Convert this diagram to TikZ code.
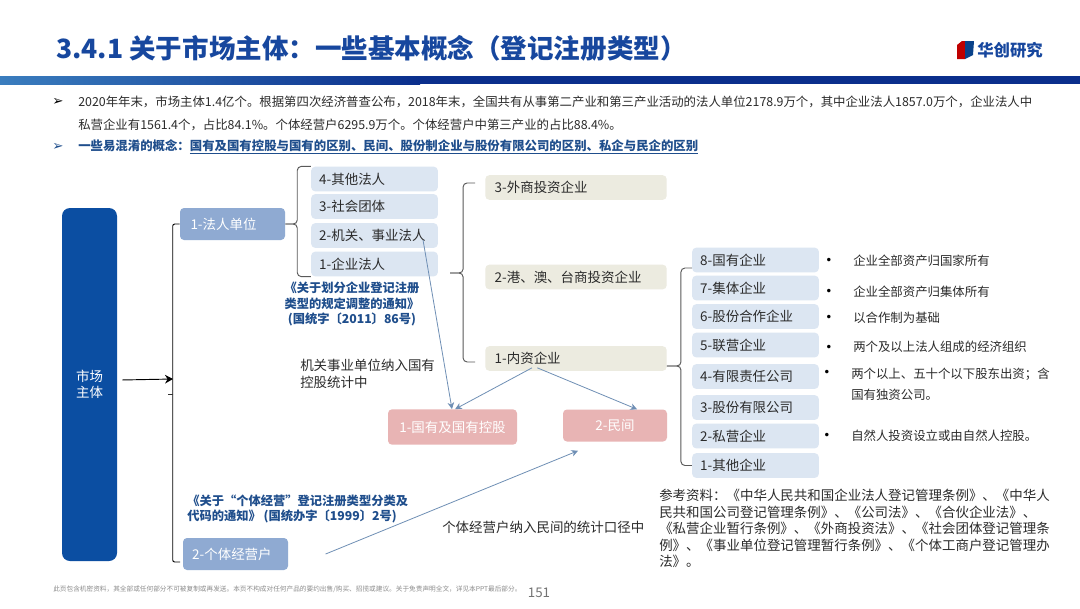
\documentclass[tikz,border=0pt]{standalone}
\usepackage{fontspec}
\setmainfont{Noto Sans CJK SC}
\newfontfamily\symfont{DejaVu Sans}
\usetikzlibrary{arrows.meta, positioning}
\definecolor{zhulan}{HTML}{0B4EA2}
\definecolor{titlan}{HTML}{17479E}
\definecolor{yinlan}{HTML}{1F4E8C}
\definecolor{farenlan}{HTML}{8FAAD2}
\definecolor{qianlan}{HTML}{DCE6F2}
\definecolor{qianhui}{HTML}{ECEBE0}
\definecolor{fenhong}{HTML}{E8B4B4}
\definecolor{xianlan}{HTML}{6F8FB5}
\definecolor{wenzi}{HTML}{2B2B2B}
\definecolor{tiaozuo}{HTML}{3A7DBE}
\definecolor{tiaoyou}{HTML}{0A2E8C}

\begin{document}
\begin{tikzpicture}[
  x=0.75pt, y=-0.75pt,
  lab/.style={font=\fontsize{10.1pt}{12.4pt}\selectfont, align=left, anchor=west, inner sep=0pt, text=wenzi},
  yinwen/.style={font=\fontsize{9.2pt}{11.5pt}\selectfont\bfseries, text=yinlan, inner sep=0pt},
  para/.style={font=\fontsize{9.3pt}{11pt}\selectfont, anchor=west, inner sep=0pt, text=wenzi},
  dian/.style={font=\symfont\fontsize{9pt}{11pt}\selectfont, inner sep=0pt, text=black},
  chip/.style={
    rounded corners=3pt, inner xsep=0pt, inner ysep=0pt, align=left,
    font=\fontsize{10.1pt}{12pt}\selectfont, text=wenzi, minimum height=18.5pt
  },
  farenbox/.style={chip, fill=qianlan, text width=83pt, minimum width=95pt},
  qiyebox/.style={chip, fill=qianlan, text width=83pt, minimum width=95pt},
  waibox/.style={chip, fill=qianhui, text width=122pt, minimum width=136pt},
  hongbox/.style={chip, fill=fenhong, text=white, align=center},
  kuohao/.style={draw=black!65, line width=0.7pt, rounded corners=3pt},
  fleche/.style={-{Stealth[length=5pt, width=5pt]}, draw=xianlan, line width=0.6pt}
]
\useasboundingbox (0,0) rectangle (1080,608);
\fill[white] (0,0) rectangle (1080,608);

% --- 1. Title and logo ---
\node[font=\fontsize{19.9pt}{24pt}\selectfont\bfseries, text=titlan, anchor=west, inner sep=0pt] (titre) at (56,48)
  {3.4.1 关于市场主体：一些基本概念（登记注册类型）};
\shade[left color=tiaozuo, right color=tiaoyou] (0,76) rectangle (420,84);
\fill[tiaoyou] (420,76) rectangle (1080,84);
\fill[red!75!black] (957,45) -- (962,41) -- (965,41) -- (965,59) -- (957,59) -- cycle;
\fill[zhulan!85!black] (965,41) -- (974,41) -- (973,55) -- (965,59) -- cycle;
\node[font=\fontsize{12.3pt}{14pt}\selectfont\bfseries, text=titlan, anchor=west, inner sep=0pt] (logo) at (977,50) {华创研究};

% --- 2. Bullets on top ---
\node[dian, font=\symfont\fontsize{10pt}{12pt}\selectfont] (puce1) at (58,102) {➢};
\node[para] (ligne1) at (78,102)
  {2020年年末，市场主体1.4亿个。根据第四次经济普查公布，2018年末，全国共有从事第二产业和第三产业活动的法人单位2178.9万个，其中企业法人1857.0万个，企业法人中};
\node[para] (ligne2) at (78,125)
  {私营企业有1561.4个，占比84.1\%。个体经营户6295.9万个。个体经营户中第三产业的占比88.4\%。};
\node[dian, font=\symfont\fontsize{10pt}{12pt}\selectfont, text=yinlan] (puce2) at (58,147) {➢};
\node[para, text=yinlan, font=\fontsize{9.3pt}{11pt}\selectfont\bfseries] (ligne3) at (78,147)
  {一些易混淆的概念：\underline{国有及国有控股与国有的区别、民间、股份制企业与股份有限公司的区别、私企与民企的区别}};

% --- 3. Main column ---
\node[chip, fill=zhulan, text=white, minimum width=41.25pt, minimum height=264.75pt, align=center, rounded corners=6pt,
  font=\fontsize{10.1pt}{12pt}\selectfont] (shichang) at (89.5,384.5) {市场\\主体};
\node[chip, fill=farenlan, text=white, text width=63pt, minimum width=78.75pt, minimum height=24pt] (faren) at (232.5,224) {1-法人单位};
\node[chip, fill=farenlan, text=white, text width=65pt, minimum width=78.75pt, minimum height=24pt] (geti) at (235.5,554) {2-个体经营户};

% --- 4. Legal persons ---
\node[farenbox] (qita) at (374.5,179) {4-其他法人};
\node[farenbox] (shetuan) at (374.5,206.5) {3-社会团体};
\node[farenbox] (jiguan) at (374.5,235.5) {2-机关、事业法人};
\node[farenbox] (qiye) at (374.5,264) {1-企业法人};
\node[yinwen, align=center] (tongzhi) at (352,304) {《关于划分企业登记注册\\类型的规定调整的通知》\\(国统字〔2011〕86号)};
\node[lab] (jiguanlab) at (300,374) {机关事业单位纳入国有\\控股统计中};

% --- 5. Enterprises ---
\node[waibox] (waishang) at (576,187.5) {3-外商投资企业};
\node[waibox] (gangao) at (576,277) {2-港、澳、台商投资企业};
\node[waibox] (neizi) at (576,358.5) {1-内资企业};
\node[hongbox, minimum width=96.75pt, minimum height=26.5pt] (guoyou) at (452.5,427) {1-国有及国有控股};
\node[hongbox, minimum width=78pt, minimum height=24pt] (minjian) at (615,425.5) {2-民间};

% --- 6. Domestic enterprises and their notes ---
\foreach \nom/\y/\txt in {
    guoqi/260/8-国有企业, jiti/288/7-集体企业, gufenhz/316.5/6-股份合作企业, lianying/345/5-联营企业,
    youxian/376.5/4-有限责任公司, gufen/407.5/3-股份有限公司, siying/436/2-私营企业, qitaqy/465.5/1-其他企业}
  \node[qiyebox] (\nom) at (755.5,\y) {\txt};
\foreach \nom/\x/\y in {d1/829/261, d2/829/292, d3/829/318, d4/829/348, d5/827/373, d6/827/436}
  \node[dian] (\nom) at (\x,\y) {•};
\node[para] (n1) at (853,261) {企业全部资产归国家所有};
\node[para] (n2) at (853,292) {企业全部资产归集体所有};
\node[para] (n3) at (853,318) {以合作制为基础};
\node[para] (n4) at (853,347) {两个及以上法人组成的经济组织};
\node[para, align=left, font=\fontsize{9.3pt}{15.8pt}\selectfont] (n5) at (851,384) {两个以上、五十个以下股东出资；含\\国有独资公司。};
\node[para] (n6) at (851,436) {自然人投资设立或由自然人控股。};

% --- 7. Bottom texts ---
\node[yinwen, align=left, anchor=west] (geticit) at (187,509)
  {《关于“个体经营”登记注册类型分类及\\代码的通知》 (国统办字〔1999〕2号)};
\node[lab] (getilab) at (442,527) {个体经营户纳入民间的统计口径中};
\node[lab, font=\fontsize{10.1pt}{12.4pt}\selectfont] (cankao) at (659,528.5)
  {参考资料：《中华人民共和国企业法人登记管理条例》、《中华人\\民共和国公司登记管理条例》、《公司法》、《合伙企业法》、\\《私营企业暂行条例》、《外商投资法》、《社会团体登记管理条\\例》、《事业单位登记管理暂行条例》、《个体工商户登记管理办\\法》。};
\node[font=\fontsize{5pt}{6pt}\selectfont, text=black!45, anchor=west, inner sep=0pt] (mianze) at (53,589)
  {此页包含机密资料，其全部或任何部分不可被复制或再发送。本页不构成对任何产品的要约出售/购买、招揽或建议。关于免责声明全文，详见本PPT最后部分。};
\node[font=\fontsize{10pt}{12pt}\selectfont, text=black!55, inner sep=0pt] (yema) at (539,593) {151};

% Braces
\draw[line width=0.7pt, draw=black, rounded corners=1.5pt]
  (faren.west) -- ++(-5.25pt,0) |- ([yshift=-6pt,xshift=-2pt]geti.west);
\draw[kuohao] (faren.east) -- ++(9pt,0) |- (qita.north west);
\draw[kuohao] (faren.east) -- ++(9pt,0) |- (qiye.south west);
\draw[kuohao] ([xshift=9pt,yshift=-6.75pt]qiye.east) -- ++(9.75pt,0) |- ([xshift=-7.5pt,yshift=3.4pt]waishang.west);
\draw[kuohao] ([xshift=9pt,yshift=-6.75pt]qiye.east) -- ++(9.75pt,0) |- ([xshift=-7.5pt,yshift=-2.6pt]neizi.west);
\draw[kuohao] ([yshift=-5.6pt]neizi.east) -- ++(10.5pt,0) |- ([yshift=-6pt]guoqi.west);
\draw[kuohao] ([yshift=-5.6pt]neizi.east) -- ++(10.5pt,0) |- (qitaqy.west);

% Arrows
\coordinate (zhuding) at (173,379);
\coordinate (zhutick) at (173,394);
\draw[-{Stealth[length=6pt, width=6.5pt]}, line width=0.7pt, draw=black] ([xshift=3.75pt,yshift=3.4pt]shichang.east) -- (zhuding);
\draw[line width=0.6pt, draw=black!80] (zhutick) -- ++(-3.75pt,0);
\draw[fleche] ([xshift=36.4pt,yshift=-3.4pt]jiguan.center) -- ([xshift=-0.4pt]guoyou.north);
\draw[fleche] ([xshift=-33pt,yshift=-7pt]neizi.center) -- ([xshift=2pt]guoyou.north);
\draw[fleche] ([xshift=-29pt,yshift=-7pt]neizi.center) -- ([xshift=16.5pt]minjian.north);
\draw[fleche] ([xshift=28pt]geti.east) -- ([xshift=-27.75pt,yshift=-6.75pt]minjian.south);

\end{tikzpicture}
\end{document}
